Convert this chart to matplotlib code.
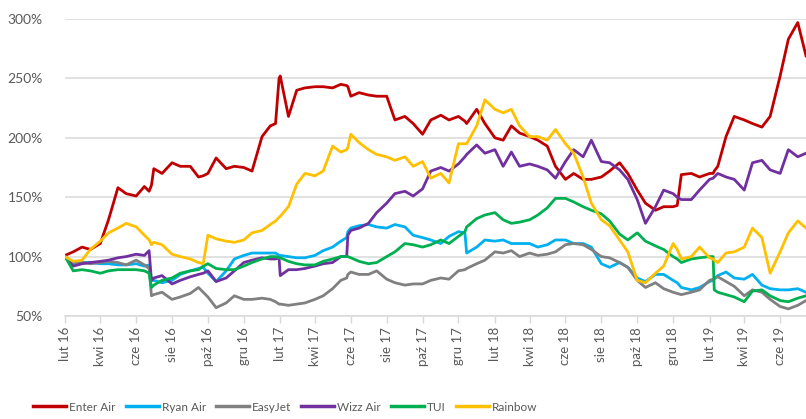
import matplotlib
matplotlib.use("Agg")
import matplotlib.pyplot as plt
import pandas as pd

# ---------------- data (values in %) ----------------
base_dates = list(pd.date_range("2016-02-01", "2019-07-15", freq="SMS"))
brexit_dates = list(pd.to_datetime(["2016-06-23", "2016-06-27"]))
dates = sorted(base_dates + brexit_dates)

enter_air = [
    101, 104, 108, 106, 111, 131, 158, 153, 151, 159, 155, 160, 174, 170, 179, 176, 176, 167, 170, 183, 174, 176, 175, 172,
    201, 210, 252, 218, 240, 242, 243, 243, 242, 245, 235, 238, 236, 235, 235, 215, 218, 212, 203, 215, 219, 215, 218, 212,
    224, 212, 200, 198, 210, 204, 201, 198, 193, 176, 165, 170, 165, 165, 167, 172, 179, 170, 156, 145, 139, 142, 142, 169,
    170, 167, 170, 176, 201, 218, 215, 212, 209, 218, 252, 283, 297, 269,
]
ryan_air = [
    100, 94, 95, 95, 94, 94, 93, 93, 94, 92, 93, 80, 80, 78, 80, 85, 88, 90, 86, 79, 88, 98, 101, 103,
    103, 103, 101, 100, 99, 99, 101, 105, 108, 113, 124, 126, 127, 125, 124, 127, 125, 118, 116, 114, 111, 117, 121, 103,
    108, 114, 113, 114, 111, 111, 111, 108, 110, 114, 114, 111, 111, 108, 94, 91, 95, 91, 82, 79, 85, 85, 80, 74,
    72, 74, 79, 84, 87, 82, 81, 85, 76, 73, 72, 72, 73, 70,
]
easyjet = [
    100, 95, 95, 94, 95, 96, 95, 93, 97, 93, 90, 67, 68, 70, 64, 66, 69, 74, 66, 57, 61, 67, 64, 64,
    65, 64, 60, 59, 60, 61, 64, 67, 73, 80, 87, 85, 85, 88, 81, 78, 76, 77, 77, 80, 82, 81, 88, 90,
    94, 97, 104, 103, 105, 100, 103, 101, 102, 104, 110, 111, 110, 106, 100, 99, 95, 91, 80, 74, 78, 73, 70, 68,
    70, 72, 80, 83, 79, 75, 67, 72, 70, 64, 58, 56, 59, 63,
]
wizz_air = [
    100, 92, 94, 95, 96, 97, 99, 100, 102, 101, 105, 80, 82, 84, 77, 80, 83, 85, 88, 79, 82, 88, 95, 97,
    99, 98, 84, 89, 89, 90, 92, 94, 95, 100, 122, 124, 128, 137, 145, 153, 155, 151, 157, 172, 175, 172, 178, 186,
    194, 187, 190, 176, 188, 176, 178, 176, 173, 166, 180, 190, 184, 198, 180, 179, 173, 165, 148, 128, 142, 156, 153, 148,
    148, 156, 165, 170, 167, 165, 156, 179, 181, 173, 170, 190, 184, 187,
]
tui = [
    100, 88, 89, 88, 86, 88, 89, 89, 89, 88, 86, 74, 76, 80, 82, 86, 88, 89, 94, 90, 89, 89, 92, 95,
    98, 100, 99, 96, 94, 93, 93, 96, 98, 100, 99, 96, 94, 95, 100, 104, 111, 110, 108, 110, 114, 111, 117, 125,
    132, 135, 137, 131, 128, 129, 131, 135, 141, 149, 149, 146, 142, 139, 136, 130, 119, 114, 120, 113, 109, 106, 100, 95,
    98, 99, 100, 70, 68, 66, 62, 71, 72, 67, 63, 62, 65, 67,
]
rainbow = [
    100, 96, 97, 106, 113, 120, 124, 128, 125, 118, 114, 110, 112, 110, 102, 100, 98, 95, 118, 115, 113, 112, 114, 120,
    122, 127, 134, 142, 161, 170, 168, 172, 193, 188, 203, 196, 190, 186, 184, 181, 184, 176, 180, 166, 170, 162, 195, 195,
    210, 232, 224, 221, 224, 210, 201, 201, 198, 207, 195, 187, 167, 145, 131, 126, 114, 104, 80, 78, 86, 92, 111, 98,
    100, 108, 99, 95, 103, 104, 108, 124, 116, 86, 104, 120, 130, 124,
]

# extra readings around sharp jumps
jump_dates = list(pd.to_datetime(["2016-09-23", "2017-01-24", "2017-01-30", "2017-05-25", "2017-05-27",
                                  "2017-12-12", "2018-12-08", "2019-02-07", "2019-02-09"]))
enter_air_jump = [168, 212, 250, 244, 243, 214, 143, 170, 172]
ryan_air_jump = [91, 103, 101, 116, 121, 120, 78, 80, 81]
easyjet_jump = [70, 62, 60, 82, 85, 89, 69, 81, 82]
wizz_air_jump = [86, 98, 99, 100, 118, 184, 150, 166, 167]
tui_jump = [92, 100, 99, 100, 100, 121, 98, 100, 72]
rainbow_jump = [94, 130, 133, 190, 192, 195, 106, 98, 97]

series_names = ["Enter Air", "Ryan Air", "EasyJet", "Wizz Air", "TUI", "Rainbow"]
series_values = [enter_air, ryan_air, easyjet, wizz_air, tui, rainbow]
series_jumps = [enter_air_jump, ryan_air_jump, easyjet_jump, wizz_air_jump, tui_jump, rainbow_jump]
series_colors = ["#C00000", "#00B0F0", "#808080", "#7030A0", "#00B050", "#FFC000"]

tick_dates = list(pd.date_range("2016-02-01", "2019-06-01", freq="2MS"))
month_abbr = {2: "lut", 4: "kwi", 6: "cze", 8: "sie", 10: "paź", 12: "gru"}
tick_labels = [f"{month_abbr[d.month]} {d.year % 100:02d}" for d in tick_dates]
y_ticks = [50, 100, 150, 200, 250, 300]
y_labels = [f"{v}%" for v in y_ticks]

# ---------------- plot ----------------
plt.rcParams["font.family"] = ["Lato", "DejaVu Sans"]
fig = plt.figure(figsize=(8.06, 4.19), dpi=100)
ax = fig.add_axes([65 / 806, 1 - 316 / 419, 1 - 65 / 806, (316 - 19) / 419])

for name, vals, jv, col in zip(series_names, series_values, series_jumps, series_colors):
    assert len(vals) == len(dates), (name, len(vals), len(dates))
    s = pd.concat([pd.Series(vals, index=dates), pd.Series(jv, index=jump_dates)]).sort_index()
    ax.plot(s.index, s.values, color=col, lw=2.0, label=name, solid_joinstyle="round")

ax.set_ylim(50, 300)
ax.set_xlim(pd.Timestamp("2016-02-01"), pd.Timestamp("2019-07-15"))
ax.set_yticks(y_ticks)
ax.set_yticklabels(y_labels)
ax.set_xticks(tick_dates)
ax.set_xticklabels(tick_labels, rotation=90)

ax.grid(axis="y", color="#D9D9D9", lw=1.1)
ax.set_axisbelow(True)
for sp in ["top", "right", "left"]:
    ax.spines[sp].set_visible(False)
ax.spines["bottom"].set_color("#D9D9D9")
ax.spines["bottom"].set_linewidth(1.1)
ax.tick_params(axis="y", length=0, pad=16, labelsize=10, labelcolor="#595959")
ax.tick_params(axis="x", length=5, width=1, color="#D9D9D9", pad=3, labelsize=9.5, labelcolor="#595959")

leg_font = 8.5
fs_px = leg_font * 100 / 72
leg = fig.legend(loc="center left", bbox_to_anchor=(33 / 806, 1 - 407 / 419), ncol=6,
                 frameon=False, handlelength=33 / fs_px, handletextpad=3 / fs_px,
                 columnspacing=10 / fs_px, borderpad=0, borderaxespad=0,
                 prop={"family": ["Lato", "DejaVu Sans"], "size": leg_font})
for t in leg.get_texts():
    t.set_color("#595959")
for h in leg.get_lines():
    h.set_linewidth(2.5)

fig.savefig("out.png", dpi=100)
